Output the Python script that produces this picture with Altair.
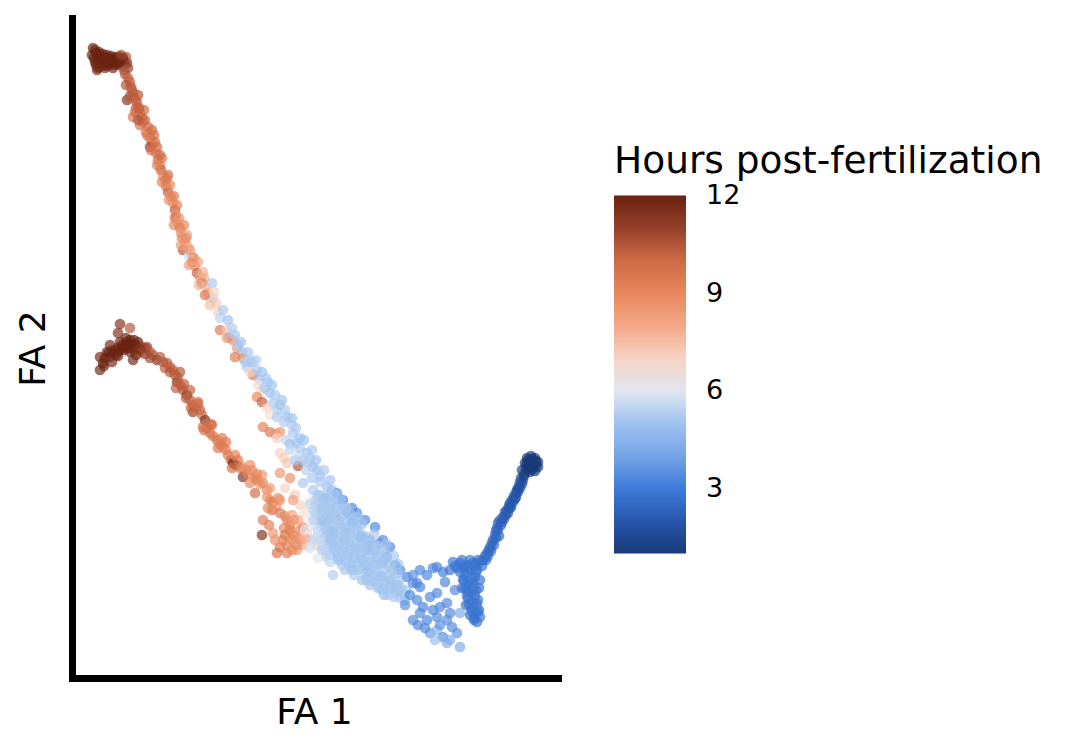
import altair as alt
import pandas as pd

# ---- data: FA embedding coordinates and hours post-fertilization, by region ----
top_cluster_fa1 = [9.3, 9.6, 10.0, 10.4, 10.8, 11.2, 11.6, 12.0, 12.4, 12.7, 9.4, 9.8, 10.2, 10.6, 11.0, 11.4, 11.8, 12.2, 9.6, 10.0, 10.5, 11.0, 11.8, 12.6, 12.8, 9.7, 11.3, 12.4,
                   9.5, 9.9, 10.3, 10.7, 11.1, 11.5, 11.9, 12.3, 9.5, 9.9, 10.3, 10.7, 11.1, 11.5, 11.9, 10.4, 10.8, 9.2, 9.8, 12.1]
top_cluster_fa2 = [65.2, 64.7, 64.5, 64.3, 64.2, 64.1, 64.0, 63.9, 63.8, 63.7, 64.2, 64.0, 63.8, 63.7, 63.6, 63.5, 63.6, 63.4, 63.5, 63.3, 63.2, 64.0, 64.2, 64.3, 63.2, 63.0, 63.2, 63.0,
                   65.0, 64.8, 64.6, 64.5, 64.4, 64.3, 64.3, 64.2, 63.8, 63.7, 63.5, 63.4, 63.8, 63.8, 63.7, 64.0, 63.9, 64.5, 63.2, 64.5]
top_cluster_hpf = [11.8, 12, 12, 12, 12, 12, 12, 12, 12, 11.8, 12, 12, 12, 12, 12, 12, 12, 11.5, 12, 11.8, 11.5, 12, 12, 10.5, 11, 11.5, 11.8, 10.5,
                   12, 12, 12, 12, 12, 12, 12, 11.8, 12, 12, 12, 12, 12, 12, 12, 12, 12, 12, 11.8, 11]

top_arm_fa1 = [12.5, 12.8, 13.0, 13.1, 13.3, 12.7, 13.4, 13.7, 13.6, 14.0, 13.3, 14.2, 14.5, 14.0, 14.8, 14.6, 15.0, 15.2, 15.0, 15.7, 15.6, 15.8, 16.0, 16.1, 16.3, 16.5, 16.6, 16.8, 17.1, 17.3, 17.5, 17.6, 17.5, 17.8, 18.0, 18.1, 18.2, 18.5, 18.3, 18.8, 19.2, 18.9, 19.2, 19.5, 19.7, 20.0, 20.2, 20.6, 20.8, 21.0, 21.3, 21.2, 21.6, 13.8, 14.4, 15.4, 16.2, 16.8, 17.0, 17.7, 18.4, 18.7, 19.0, 19.8, 20.3, 20.5,
               12.6, 13.2, 13.0, 13.6, 13.5, 13.9, 14.3, 13.8, 14.7, 15.2, 15.1, 15.5, 15.7, 16.0, 16.2, 16.7, 16.9, 17.4, 17.4, 17.9, 18.1, 18.6, 18.9, 19.4, 19.9, 20.4, 21.0, 21.4]
top_arm_fa2 = [62.6, 62.2, 61.8, 61.3, 60.7, 60.0, 60.2, 59.7, 59.2, 58.7, 58.3, 58.2, 58.0, 57.5, 57.3, 56.8, 56.2, 55.7, 55.3, 55.3, 54.7, 54.0, 53.5, 53.0, 52.4, 52.0, 51.4, 50.8, 50.3, 49.7, 49.0, 48.5, 48.2, 47.7, 47.2, 46.7, 46.2, 45.8, 45.0, 45.3, 44.3, 44.4, 43.7, 43.4, 42.7, 42.2, 41.7, 41.3, 40.7, 40.3, 40.2, 41.7, 39.7, 60.5, 59.0, 56.5, 54.2, 52.5, 51.5, 49.5, 47.5, 46.5, 45.0, 43.8, 42.8, 40.5,
               61.5, 61.0, 60.4, 60.0, 58.8, 59.2, 57.8, 58.0, 56.5, 57.0, 55.0, 55.8, 53.5, 54.5, 51.8, 52.2, 50.0, 50.4, 47.5, 48.2, 45.5, 46.2, 43.5, 44.2, 41.5, 42.2, 39.5, 40.8]
top_arm_hpf = [10.5, 10.3, 10.3, 10.3, 10.2, 11.5, 10.2, 10, 10.2, 10, 9.5, 10.2, 10, 9.8, 10, 9.5, 9.8, 9.5, 11, 10, 9.5, 10, 9.5, 10.3, 9, 8.8, 9.5, 10.3, 9, 8.5, 10.5, 8.5, 10, 8.5, 9.8, 8.5, 9, 8.8, 10.5, 8, 9.8, 5.8, 10, 8.5, 10.2, 8.5, 10.8, 7.5, 8, 7.2, 5.5, 5.2, 7.2, 10.5, 10, 9.8, 9.5, 9.8, 9, 9.2, 9, 8.3, 8.5, 8.2, 7.8, 9.5,
               10.5, 10.3, 10.5, 10.2, 10, 10.3, 10, 10.5, 9.5, 10, 9.8, 9.8, 9.2, 10, 9.2, 9.5, 8.8, 9.3, 9, 8.7, 8.5, 8.8, 8.3, 8.5, 7.8, 8, 7.5, 7]

upper_strand_fa1 = [21.8, 22.0, 22.3, 22.8, 22.0, 22.7, 22.9, 22.7, 23.3, 23.7, 23.8, 24.2, 23.5, 24.3, 24.5, 24.7, 25.3, 25.0, 25.7, 26.0, 25.8, 26.2, 26.5, 27.0, 25.7, 26.2, 27.3, 26.7, 27.7, 27.0, 27.7, 28.7, 28.4, 26.3, 27.0, 27.6, 28.0, 27.7, 28.6, 29.3, 29.0, 29.6, 30.0, 29.0, 30.7, 28.0, 28.4, 28.7, 29.8, 29.5, 30.3, 30.8, 31.3, 28.0, 29.0, 30.3, 31.7, 32.0, 32.0, 32.7, 33.2, 33.0, 23.2, 25.0, 26.8, 28.0, 29.2, 30.0, 31.0,
                    23.5, 24.1, 24.8, 25.2, 25.6, 26.2, 26.6, 27.2, 27.5, 28.2, 28.5, 29.2, 29.6, 30.4, 31.2, 31.6, 32.4, 33.0, 30.0, 30.6, 31.2]
upper_strand_fa2 = [38.8, 38.2, 39.0, 38.0, 37.0, 37.0, 36.3, 36.2, 36.0, 35.2, 35.5, 34.8, 34.3, 34.2, 33.8, 33.3, 32.5, 32.8, 33.0, 32.0, 31.5, 31.0, 31.2, 30.7, 30.3, 29.8, 29.7, 29.2, 29.0, 28.5, 28.3, 28.3, 27.8, 27.3, 26.8, 26.6, 26.8, 26.2, 26.0, 26.7, 25.6, 25.7, 25.2, 25.0, 24.7, 24.7, 24.2, 23.7, 23.4, 24.0, 24.0, 23.7, 23.3, 22.7, 22.2, 21.7, 23.0, 22.4, 21.8, 21.3, 21.0, 20.3, 37.2, 34.0, 31.8, 29.5, 27.5, 26.2, 24.2,
                    36.5, 35.8, 34.8, 33.8, 34.0, 32.8, 32.2, 31.5, 30.5, 30.0, 29.0, 28.2, 27.2, 26.0, 25.0, 24.0, 23.0, 22.0, 24.5, 23.0, 22.2]
upper_strand_hpf = [7, 5.5, 5.2, 5, 9.5, 7.3, 5, 8.5, 8.8, 8.5, 5.2, 5, 9.5, 9, 5.3, 5.2, 9.5, 7, 5.2, 5, 6.8, 7, 5.2, 5, 9, 10.3, 5.2, 7, 5.3, 6.8, 5.2, 5, 5.3, 9.2, 9.5, 8.8, 8.5, 7, 5.5, 5.2, 5, 5, 5.2, 5.5, 5, 7, 7.2, 7.3, 10.5, 5.2, 5, 5.2, 5, 8.5, 8.8, 5.2, 5, 5, 5.2, 5, 4.8, 5, 5.3, 5.5, 5.2, 5, 5.2, 5, 5.3,
                    5.2, 5, 5.2, 5, 5.3, 5, 5.2, 5, 5.2, 5, 5.2, 5, 5.2, 5, 5.2, 5, 5.2, 5, 5.5, 5.3, 5.2]

lower_cluster_fa1 = [12.0, 13.0, 11.8, 10.0, 10.0, 10.3, 10.7, 11.3, 11.8, 12.2, 12.7, 13.0, 13.4, 13.8, 12.6, 13.2, 11.6, 11.0, 12.4, 12.8, 13.4, 14.0, 14.5, 14.7, 13.3, 15.0, 15.3, 15.7, 16.0, 11.0, 14.0,
                     10.5, 10.9, 11.4, 11.9, 12.3, 12.9, 13.5, 14.0, 12.0, 12.5, 13.0, 11.8, 11.2, 10.4, 14.5, 15.0, 13.6]
lower_cluster_fa2 = [37.6, 37.2, 36.7, 34.3, 33.0, 33.7, 34.8, 35.0, 35.2, 35.5, 35.8, 36.0, 36.0, 35.8, 36.2, 35.5, 34.5, 34.3, 35.0, 35.2, 35.0, 35.4, 35.2, 35.3, 34.0, 34.8, 34.5, 34.0, 34.3, 35.5, 34.8,
                     34.2, 34.7, 34.8, 34.9, 35.2, 35.5, 35.5, 35.1, 35.8, 35.5, 34.8, 34.4, 33.8, 33.4, 34.6, 34.2, 34.5]
lower_cluster_hpf = [11.5, 10.5, 11.5, 11.8, 11.8, 12, 12, 12, 12, 12, 12, 12, 12, 12, 12, 12, 12, 12, 12, 12, 11.8, 11.5, 11, 11, 11.8, 10.5, 10.5, 11.5, 10.5, 11.8, 10.3,
                     12, 12, 12, 12, 12, 12, 12, 11.5, 12, 12, 12, 12, 11.8, 12, 11, 10.8, 11.8]

lower_arm_fa1 = [16.3, 16.7, 17.0, 17.3, 17.5, 17.7, 17.8, 18.1, 18.3, 18.7, 18.6, 19.0, 19.3, 19.3, 19.6, 20.0, 20.2, 20.5, 20.3, 20.7, 21.0, 21.3, 21.7, 22.0, 22.3, 22.6, 22.8, 23.1, 23.3, 23.6, 24.0, 24.2, 24.3, 24.6, 24.8, 25.2, 25.5, 25.7, 26.0, 26.3, 25.5, 26.7, 26.7, 27.0, 27.3, 27.2, 27.6, 28.0, 28.5, 28.7, 26.3, 26.2, 27.3, 29.0, 29.0, 29.3, 29.6, 29.3, 30.0, 28.0, 28.7, 27.7, 29.7, 30.3, 30.7, 30.3, 31.3, 30.0, 31.0, 31.6, 28.3, 27.5, 28.5, 29.5, 30.0, 30.5, 29.3, 31.0, 18.0, 19.0, 19.8, 21.2, 22.2, 23.5, 25.0, 26.2, 27.0, 28.0, 29.2, 29.8,
                 16.5, 17.0, 17.6, 18.4, 19.1, 19.8, 20.4, 21.1, 21.8, 22.6, 23.2, 23.8, 25.0, 25.7, 26.8, 27.8, 28.4, 29.4, 28.7, 29.7, 26.9, 28.5, 29.2, 30.5]
lower_arm_fa2 = [33.8, 33.7, 33.3, 33.0, 32.5, 31.8, 32.2, 31.4, 31.0, 30.5, 30.2, 30.0, 29.5, 28.8, 29.2, 29.0, 28.5, 28.0, 27.3, 27.2, 26.7, 26.4, 26.0, 25.6, 25.3, 25.0, 24.5, 24.0, 23.7, 23.5, 23.2, 23.3, 22.3, 23.0, 22.6, 23.0, 22.2, 22.0, 21.6, 21.7, 20.7, 21.0, 20.3, 20.0, 19.8, 19.0, 19.4, 18.7, 18.4, 18.0, 18.0, 16.5, 16.7, 17.5, 17.0, 16.5, 16.2, 16.0, 16.0, 15.3, 14.7, 14.7, 15.0, 15.5, 16.7, 17.3, 18.0, 17.0, 16.0, 15.5, 16.0, 16.0, 21.2, 20.5, 19.5, 18.8, 20.0, 20.0, 32.8, 31.0, 29.8, 27.5, 26.2, 24.5, 23.5, 22.5, 21.2, 20.0, 18.5, 18.0,
                 33.2, 32.8, 31.2, 31.6, 29.2, 29.6, 27.0, 27.6, 25.2, 25.8, 23.2, 24.0, 21.7, 22.6, 19.2, 20.2, 17.2, 18.0, 15.5, 15.5, 17.5, 16.5, 15.0, 16.2]
lower_arm_hpf = [10.3, 10.5, 10.3, 10.3, 10.3, 11.5, 10.3, 10.3, 10.5, 11.5, 10.3, 10.3, 10.2, 11, 10, 10.3, 10, 11.5, 10, 9.5, 10, 9.5, 9.8, 9.5, 9.5, 9, 9.5, 10, 12, 11.8, 9.5, 9, 11.5, 9, 9.3, 8.8, 9, 9.5, 8.5, 9, 10, 9, 8.5, 9, 9.5, 10, 8.5, 9.5, 9, 9.2, 9.5, 11.5, 8.5, 9, 9.5, 9, 8.5, 9, 8.5, 9.5, 9.5, 9.8, 8.5, 8, 7, 8.5, 7.3, 9, 7, 7, 9.2, 8.8, 7, 7.2, 7, 6.8, 8.3, 6.5, 10.5, 10.2, 10, 9.8, 9.3, 9.2, 8.8, 8.5, 8.3, 8.8, 8.3, 8,
                 10.3, 10.5, 10.3, 10.3, 10.2, 10, 9.8, 10, 9.5, 9.5, 9.8, 9.5, 9, 9, 9, 8.7, 9, 8.5, 9.2, 8.7, 9.3, 9.5, 9, 8]

central_fa1 = [31.3, 32.0, 32.6, 31.6, 32.2, 33.0, 33.6, 32.8, 32.0, 32.4, 33.2, 34.0, 34.5, 33.8, 33.0, 32.2, 32.6, 33.5, 34.4, 35.0, 35.5, 34.8, 34.0, 35.2, 36.0, 36.5, 35.8, 37.0, 37.5, 38.0, 37.2, 38.5, 39.0, 37.8, 39.5, 40.0, 38.8, 40.5, 39.7, 34.3, 35.0, 35.7, 36.2, 36.8, 37.5, 38.3, 31.3, 30.5, 31.0, 31.8, 33.0, 31.5, 33.3, 34.5, 36.2, 33.0, 31.0, 33.6, 33.7, 34.3, 35.2, 35.7, 36.5, 37.5, 38.3, 39.0, 36.0, 36.7, 40.0, 40.7, 41.7, 38.0, 38.7, 39.5, 35.2, 37.0, 34.7]
central_fa2 = [21.0, 20.5, 20.0, 19.5, 18.8, 19.2, 18.5, 18.0, 17.5, 16.7, 17.0, 17.5, 16.7, 16.0, 15.5, 15.0, 14.4, 14.8, 15.2, 15.8, 15.0, 14.4, 14.0, 13.7, 14.2, 13.5, 13.0, 12.8, 13.5, 12.3, 12.0, 11.7, 11.2, 11.2, 10.7, 10.2, 10.5, 10.0, 11.5, 19.5, 18.5, 17.5, 16.5, 15.5, 14.8, 14.0, 16.0, 17.0, 15.2, 14.2, 13.8, 18.5, 12.5, 13.0, 12.0, 16.3, 18.0, 20.0, 20.7, 20.0, 19.2, 18.7, 18.0, 17.3, 16.0, 15.3, 16.3, 15.0, 13.0, 12.3, 11.7, 15.7, 14.3, 13.5, 17.8, 16.0, 18.8]
central_hpf = [5.2, 5, 5.2, 5, 5.2, 5, 5.2, 5, 5.2, 5, 5, 5.2, 5, 5.2, 5, 5.2, 5.3, 5, 5.2, 5, 5.2, 5, 5.2, 5, 5.2, 5, 5.2, 5, 4.8, 5, 5.2, 5, 5.2, 5, 5, 5.2, 5.3, 4.8, 4.6, 5.2, 5.3, 5, 5.2, 5, 5.2, 5, 5.5, 6, 5.8, 6, 5.5, 5.3, 5.3, 5.2, 5, 5.2, 6.2, 5.3, 3.5, 3.3, 3.3, 3.4, 3.3, 3.3, 3.4, 3.3, 3.5, 4, 3.3, 3.2, 3.3, 3.6, 3.5, 3.3, 3.6, 3.8, 3.5]

central_core_fa1 = [31.8, 32.6, 33.4,
                    32.2, 33.0, 33.8, 34.6, 31.0,
                    31.8, 32.6, 33.4, 34.2, 35.0, 35.8,
                    31.4, 32.2, 33.0, 33.8, 34.6, 35.4, 36.2,
                    31.8, 32.6, 33.4, 34.2, 35.0, 35.8, 36.6, 37.4,
                    32.2, 33.0, 33.8, 34.6, 35.4, 36.2, 37.0, 37.8, 38.6,
                    33.0, 33.8, 34.6, 35.4, 36.2, 37.0, 37.8, 38.6, 39.4,
                    34.2, 35.0, 35.8, 36.6, 37.4, 38.2, 39.0, 39.8,
                    35.4, 36.6, 37.4, 38.2, 39.0, 39.8,
                    37.0, 38.0, 39.0, 40.0,
                    38.4, 39.4, 40.4,
                    31.6, 32.4, 33.2, 34.0,
                    31.4, 32.2, 33.0, 33.8, 34.6,
                    31.4, 32.2, 33.0, 33.8, 34.6, 35.4,
                    31.8, 32.6, 33.4, 34.2, 35.0, 35.8,
                    32.2, 33.0, 33.8, 34.6, 35.4, 36.2, 37.0,
                    32.6, 33.4, 34.2, 35.0, 35.8, 36.6, 37.4, 38.2,
                    33.8, 34.6, 35.4, 36.2, 37.0, 37.8, 38.6,
                    35.2, 36.0, 36.8, 37.6, 38.4, 39.2,
                    36.6, 37.4, 38.2, 39.0, 39.8,
                    38.2, 39.0, 39.8, 40.6]
central_core_fa2 = [20.5, 20.3, 20.6,
                    19.5, 19.7, 19.4, 19.3, 19.6,
                    18.5, 18.3, 18.6, 18.4, 18.6, 18.3,
                    17.5, 17.7, 17.4, 17.6, 17.3, 17.5, 17.6,
                    16.5, 16.3, 16.6, 16.4, 16.7, 16.5, 16.3, 16.6,
                    15.5, 15.7, 15.4, 15.6, 15.3, 15.5, 15.7, 15.4, 15.6,
                    14.5, 14.3, 14.6, 14.4, 14.6, 14.3, 14.5, 14.6, 14.4,
                    13.5, 13.3, 13.6, 13.4, 13.5, 13.7, 13.4, 13.6,
                    12.5, 12.3, 12.6, 12.4, 12.5, 12.7,
                    11.5, 11.3, 11.6, 11.4,
                    10.5, 10.3, 10.6,
                    20.0, 20.1, 19.9, 20.0,
                    19.0, 19.1, 18.9, 19.0, 19.1,
                    18.0, 17.9, 18.1, 18.0, 17.9, 18.1,
                    17.0, 17.1, 16.9, 17.0, 17.1, 16.9,
                    16.0, 16.1, 15.9, 16.0, 16.1, 15.9, 16.0,
                    15.0, 15.1, 14.9, 15.0, 15.1, 14.9, 15.0, 15.1,
                    14.0, 13.9, 14.1, 14.0, 13.9, 14.1, 14.0,
                    13.0, 13.1, 12.9, 13.0, 13.1, 12.9,
                    12.0, 11.9, 12.1, 12.0, 11.9,
                    11.0, 11.1, 10.9, 11.0]
central_core_hpf = [5.2, 5.0, 5.2,
                    5.0, 5.2, 5.0, 5.2, 5.5,
                    5.3, 5.0, 5.2, 5.0, 5.2, 5.0,
                    5.8, 5.2, 5.0, 5.2, 5.0, 5.2, 5.0,
                    5.6, 5.2, 5.0, 5.2, 5.0, 5.2, 5.0, 5.2,
                    5.5, 5.2, 5.0, 5.2, 5.0, 5.2, 5.0, 5.2, 5.0,
                    5.3, 5.0, 5.2, 5.0, 5.2, 5.0, 5.2, 5.0, 5.2,
                    5.2, 5.0, 5.2, 5.0, 5.2, 5.0, 5.2, 5.0,
                    5.2, 5.0, 5.2, 5.0, 5.2, 5.0,
                    5.0, 5.2, 5.0, 5.2,
                    5.0, 5.2, 5.0,
                    5.3, 5.0, 5.1, 5.0,
                    5.4, 5.1, 5.0, 5.1, 5.0,
                    5.5, 5.0, 5.1, 5.0, 5.1, 5.0,
                    5.6, 5.1, 5.0, 5.1, 5.0, 5.1,
                    5.5, 5.0, 5.1, 5.0, 5.1, 5.0, 5.1,
                    5.4, 5.1, 5.0, 5.1, 5.0, 5.1, 5.0, 5.1,
                    5.1, 5.0, 5.1, 5.0, 5.1, 5.0, 5.1,
                    5.0, 5.1, 5.0, 5.1, 5.0, 5.1,
                    5.1, 5.0, 5.1, 5.0, 5.1,
                    5.0, 5.1, 5.0, 5.1]

loop_fa1 = [41.3, 42.0, 41.7, 42.3, 43.0, 43.7, 44.0, 44.7, 42.0, 41.3, 42.7, 43.7, 44.7, 45.0, 46.0, 43.0, 43.7, 44.3, 45.0, 45.7, 46.0, 44.7, 42.5, 43.3, 44.0, 41.0, 40.5, 42.7, 43.3, 43.7, 44.3, 42.0, 41.3, 41.8, 43.5, 45.2, 44.5, 45.5]
loop_fa2 = [11.7, 11.3, 10.0, 9.3, 10.3, 10.7, 9.3, 9.7, 8.7, 8.0, 8.0, 8.3, 8.0, 8.7, 8.7, 6.7, 7.0, 6.3, 6.0, 6.7, 5.3, 5.7, 7.2, 9.0, 7.5, 10.5, 9.5, 12.5, 13.2, 13.3, 12.8, 13.0, 12.5, 7.5, 6.0, 7.3, 11.8, 11.0]
loop_hpf = [3.3, 3.2, 3.3, 3.2, 3.3, 3.3, 3.2, 3.3, 3.3, 3.3, 3.2, 3.3, 3.4, 3.3, 4.2, 3.8, 4.5, 3.5, 4.3, 3.5, 4.2, 4.3, 3.3, 3.2, 3.5, 3.3, 3.5, 3.3, 3.3, 3.2, 3.1, 3.3, 3.5, 3.3, 4.8, 3.4, 3.2, 3.3]

junction_fa1 = [45.0, 45.7, 46.3, 46.8, 47.3, 47.8, 48.3, 48.8, 45.3, 46.0, 47.0, 47.7, 46.5, 47.5, 46.3, 46.8, 47.3, 46.6, 47.1, 47.6, 46.8, 47.3, 47.8, 47.1, 47.5, 47.9, 47.4, 47.7, 47.0, 46.2, 46.6, 48.0,
                46.2, 47.0, 47.8, 48.6, 45.5, 46.6, 47.4, 48.2, 46.0, 46.8, 47.6, 46.4, 47.2, 48.0, 46.5, 47.3, 47.9, 46.7, 47.5, 46.9, 47.7, 47.2, 47.8, 47.4]
junction_fa2 = [13.0, 13.2, 13.3, 13.5, 13.7, 13.7, 14.0, 14.4, 13.8, 13.7, 13.0, 13.0, 12.5, 12.3, 12.0, 11.7, 11.7, 11.0, 10.7, 11.0, 10.2, 9.7, 10.0, 9.2, 8.7, 9.0, 8.2, 7.8, 8.5, 11.2, 9.5, 8.3,
                14.0, 14.0, 14.0, 14.0, 13.4, 13.4, 13.4, 13.4, 12.8, 12.8, 12.8, 12.0, 12.0, 12.0, 11.2, 11.2, 11.2, 10.4, 10.4, 9.6, 9.6, 8.8, 8.8, 8.0]
junction_hpf = [2.9, 2.9, 2.8, 2.8, 2.8, 2.8, 2.6, 2.6, 2.9, 2.8, 2.8, 2.8, 2.8, 2.8, 2.8, 2.8, 2.8, 2.8, 2.8, 2.8, 2.8, 2.8, 2.8, 2.8, 2.8, 2.8, 2.8, 2.8, 2.8, 2.9, 2.8, 2.8,
                2.8, 2.8, 2.7, 2.6, 2.9, 2.8, 2.8, 2.7, 2.8, 2.8, 2.8, 2.8, 2.8, 2.8, 2.8, 2.8, 2.8, 2.8, 2.8, 2.8, 2.8, 2.8, 2.8, 2.8]

branch_fa1 = [48.7, 49.0, 49.3, 49.5, 49.7, 49.8, 50.0, 50.3, 50.5, 50.7, 50.9, 51.0, 51.2, 51.4, 51.6, 51.7, 51.9, 52.0, 52.1, 49.4, 49.1, 49.6, 50.2, 50.6, 51.1, 51.5, 51.8, 49.9, 48.5,
              48.9, 49.2, 49.6, 49.8, 50.1, 50.4, 50.8, 51.0, 51.3, 51.6, 51.8, 52.0, 52.2, 52.3, 52.4]
branch_fa2 = [14.7, 15.3, 16.0, 16.5, 17.2, 17.7, 18.0, 18.3, 18.8, 19.0, 19.4, 19.7, 20.0, 20.4, 20.7, 21.0, 21.4, 21.8, 22.2, 15.5, 14.9, 16.9, 17.8, 18.5, 19.3, 20.1, 21.1, 16.4, 14.4,
              15.0, 15.7, 16.2, 17.0, 17.5, 18.1, 18.7, 19.2, 19.8, 20.3, 20.8, 21.2, 21.6, 22.0, 22.4]
branch_hpf = [2.6, 2.5, 2.5, 2.4, 2.4, 2.3, 2.3, 2.2, 2.1, 2.1, 2.0, 2.0, 2.0, 1.9, 1.9, 1.9, 1.8, 1.8, 1.8, 2.6, 2.5, 2.4, 2.2, 2.1, 2.0, 1.9, 1.8, 2.5, 2.6,
              2.5, 2.5, 2.4, 2.4, 2.3, 2.2, 2.1, 2.05, 2.0, 1.9, 1.85, 1.8, 1.75, 1.7, 1.5]

tip_fa1 = [52.7, 53.1, 53.5, 53.8, 53.8, 53.5, 53.0, 52.6, 52.5, 53.0, 53.3, 52.9, 52.4, 52.2, 52.8, 53.2, 53.6, 53.6, 53.3, 52.8, 52.7, 53.1]
tip_fa2 = [24.2, 24.4, 24.2, 23.8, 23.3, 22.9, 22.8, 23.2, 23.7, 23.8, 23.5, 23.4, 22.6, 23.0, 24.0, 24.1, 23.9, 23.5, 23.1, 23.0, 23.6, 23.3]
tip_hpf = [1, 1, 1, 1, 1, 1, 1, 1, 1, 1, 1, 1, 1.3, 1.3, 1, 1, 1, 1, 1, 1, 1, 1]

# colour map stops (hpf -> colour)
cmap_stops = [1, 2, 3, 4, 5, 6, 6.5, 7, 8, 9, 10, 11, 12.02]
cmap_colors = ["#183a78", "#2757ad", "#3e7bd9", "#74a4e6", "#9fc2ef", "#e0e6f2", "#f2efee",
               "#f6d3c4", "#f4a888", "#e8875c", "#d06a45", "#96402a", "#6a2211"]
legend_values = [3, 6, 9, 12]

fa1 = (top_cluster_fa1 + top_arm_fa1 + upper_strand_fa1 + lower_cluster_fa1 + lower_arm_fa1
       + central_fa1 + central_core_fa1 + loop_fa1 + junction_fa1 + branch_fa1 + tip_fa1)
fa2 = (top_cluster_fa2 + top_arm_fa2 + upper_strand_fa2 + lower_cluster_fa2 + lower_arm_fa2
       + central_fa2 + central_core_fa2 + loop_fa2 + junction_fa2 + branch_fa2 + tip_fa2)
hpf = (top_cluster_hpf + top_arm_hpf + upper_strand_hpf + lower_cluster_hpf + lower_arm_hpf
       + central_hpf + central_core_hpf + loop_hpf + junction_hpf + branch_hpf + tip_hpf)

df = pd.DataFrame({"FA1": fa1, "FA2": fa2, "hpf": hpf})

FONT = "DejaVu Sans"

chart = alt.Chart(df).mark_circle(size=115, opacity=1, fillOpacity=0.68).encode(
    x=alt.X("FA1:Q",
            scale=alt.Scale(domain=[7.2, 55.8], nice=False, zero=False),
            axis=alt.Axis(title="FA 1", ticks=False, labels=False, grid=False,
                          domainColor="black", domainWidth=7, domainCap="square",
                          titleFont=FONT, titleFontSize=36, titleFontWeight="normal",
                          titleColor="black", titleBaseline="alphabetic",
                          titleX=242, titleY=45, titleAlign="center")),
    y=alt.Y("FA2:Q",
            scale=alt.Scale(domain=[2.2, 68.2], nice=False, zero=False),
            axis=alt.Axis(title="FA 2", ticks=False, labels=False, grid=False,
                          domainColor="black", domainWidth=7, domainCap="square",
                          titleFont=FONT, titleFontSize=36, titleFontWeight="normal",
                          titleColor="black", titleBaseline="alphabetic",
                          titleAngle=270, titleX=-28, titleY=330, titleAlign="center")),
    color=alt.Color("hpf:Q",
                    scale=alt.Scale(domain=cmap_stops, range=cmap_colors, interpolate="rgb"),
                    legend=alt.Legend(title="Hours post-fertilization", orient="none",
                                      legendX=542, legendY=125, padding=0,
                                      direction="vertical",
                                      gradientLength=358, gradientThickness=72,
                                      gradientStrokeWidth=0,
                                      values=legend_values,
                                      titleFont=FONT, titleFontSize=37.5, titleFontWeight="normal",
                                      titleColor="black", titlePadding=15, titleLimit=600,
                                      labelFont=FONT, labelFontSize=27, labelColor="black",
                                      labelOffset=20)),
).properties(
    width=486, height=660,
    padding={"left": 64, "top": 10, "right": 500, "bottom": 64},
    autosize=alt.AutoSizeParams(type="none"),
).configure_view(stroke=None)

chart.save("out.html", embed_options={"renderer": "svg", "actions": False})
